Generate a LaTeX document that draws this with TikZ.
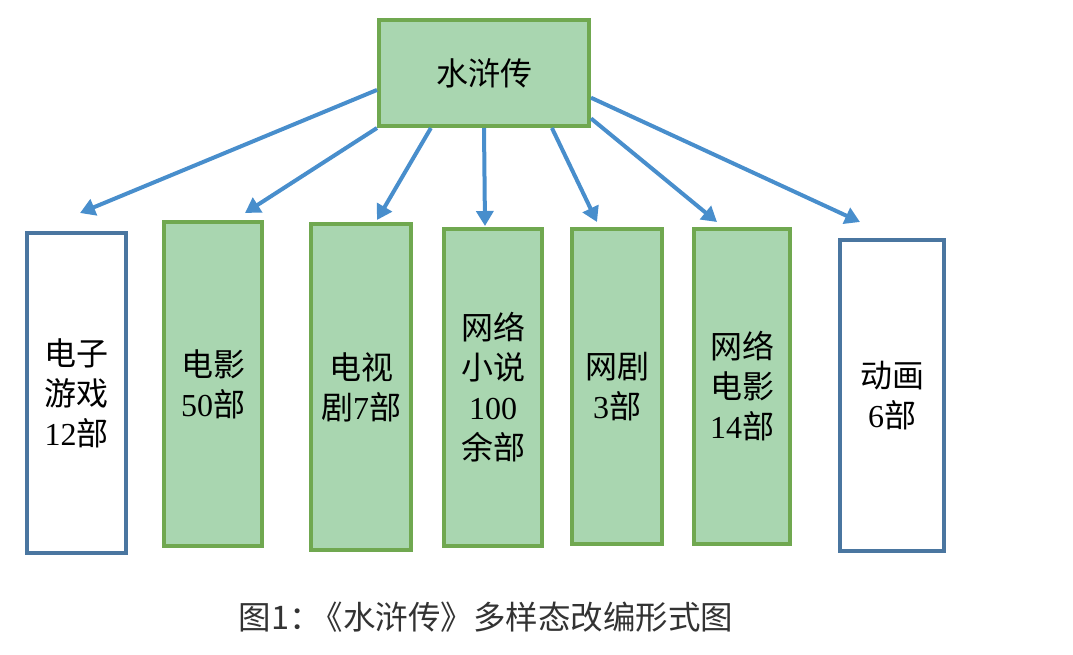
\documentclass[tikz,border=0pt]{standalone}
\usepackage{fontspec}
\setmainfont{Liberation Serif}
\newfontfamily\cjk{Noto Sans CJK SC}
\usetikzlibrary{arrows.meta, positioning}
\definecolor{boxGreen}{RGB}{169, 214, 176}
\definecolor{lineGreen}{RGB}{112, 168, 80}
\definecolor{lineBlue}{RGB}{74, 118, 160}
\definecolor{arrowBlue}{RGB}{72, 142, 204}

\begin{document}
\begin{tikzpicture}[x=1pt, y=-1pt,
	work/.style={rectangle, line width=4pt, inner sep=0pt, align=center,
		font=\fontsize{32}{40}\selectfont},
	adapt/.style={work, draw=lineGreen, fill=boxGreen},
	other/.style={work, draw=lineBlue, fill=white},
	arr/.style={draw=arrowBlue, line width=4pt, -{Triangle[length=15pt, width=17pt]}}]
	\useasboundingbox (0,0) rectangle (1073,654);
	% source work
	\node[adapt, minimum width=210pt, minimum height=106pt] (src) at (484,73) {\cjk 水浒传};
	% adaptations
	\node[other, minimum width=99pt, minimum height=320pt] (game) at (76.5,393) {{\cjk 电子}\\{\cjk 游戏}\\12{\cjk 部}};
	\node[adapt, minimum width=98pt, minimum height=324pt] (movie) at (213,384) {{\cjk 电影}\\50{\cjk 部}};
	\node[adapt, minimum width=100pt, minimum height=326pt] (tv) at (361,387) {{\cjk 电视}\\{\cjk 剧}7{\cjk 部}};
	\node[adapt, minimum width=98pt, minimum height=317pt] (novel) at (493,387.5) {{\cjk 网络}\\{\cjk 小说}\\100\\{\cjk 余部}};
	\node[adapt, minimum width=90pt, minimum height=315pt] (web) at (617,386.5) {{\cjk 网剧}\\3{\cjk 部}};
	\node[adapt, minimum width=96pt, minimum height=315pt] (webfilm) at (742,386.5) {{\cjk 网络}\\{\cjk 电影}\\14{\cjk 部}};
	\node[other, minimum width=104pt, minimum height=311pt] (anim) at (892,395.5) {{\cjk 动画}\\6{\cjk 部}};
	% arrow tips stop short of the boxes
	\coordinate (tipGame) at (80,213);
	\coordinate (tipMovie) at (245,213);
	\coordinate (tipTv) at (377,220);
	\coordinate (tipNovel) at (485,226);
	\coordinate (tipWeb) at (597,222);
	\coordinate (tipWebfilm) at (717,222);
	\coordinate (tipAnim) at (860,222);
	\draw[arr] (src.189) -- (tipGame);
	\draw[arr] (src.south west) -- (tipMovie);
	\draw[arr] (src.226) -- (tipTv);
	\draw[arr] (src.south) -- (tipNovel);
	\draw[arr] (src.-39) -- (tipWeb);
	\draw[arr] (src.-23) -- (tipWebfilm);
	\draw[arr] (src.-13) -- (tipAnim);
	% caption
	\node[font=\cjk\fontsize{32.5}{36}\selectfont, text=black!80] (caption) at (486,617) {图1：\kern-0.35em《水浒传》多样态改编形式图};
\end{tikzpicture}
\end{document}
